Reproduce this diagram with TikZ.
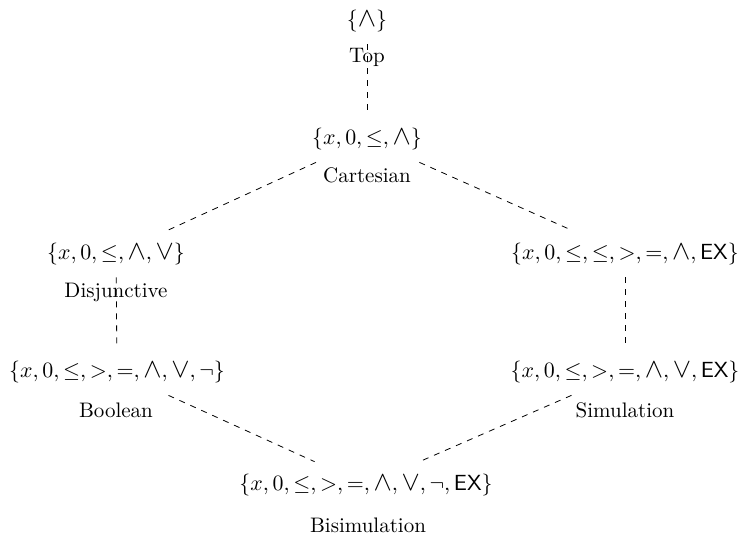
\documentclass[tikz,border=0pt]{standalone}
\usepackage{graphicx}
\newcommand{\bigwdg}{\mathbin{\scalebox{1.25}{$\wedge$}}}
\newcommand{\bigve}{\mathbin{\scalebox{1.25}{$\vee$}}}
\begin{document}
\begin{tikzpicture}[x=0.5pt,y=-0.5pt,
  every node/.style={font=\fontsize{10.5}{12.6}\selectfont},
  setnode/.style={inner xsep=3pt, inner ysep=6pt},
  namelabel/.style={anchor=base, inner sep=0pt},
  link/.style={dashed, line width=0.4pt}]
\useasboundingbox (0,0) rectangle (738,538);
% set nodes
\node[setnode] (top)   at (367,21)  {$\{\bigwdg\}$};
\node[setnode] (cart)  at (367,139) {$\{x,0,\leq,\bigwdg\}$};
\node[setnode] (disj)  at (116,254) {$\{x,0,\leq,\bigwdg,\bigve\}$};
\node[setnode] (ex)    at (625,254) {$\{x,0,\leq,\leq,>,=,\bigwdg,\mathsf{EX}\}$};
\node[setnode] (bool)  at (117,372) {$\{x,0,\leq,>,=,\bigwdg,\bigve,\neg\}$};
\node[setnode] (sim)   at (625,372) {$\{x,0,\leq,>,=,\bigwdg,\bigve,\mathsf{EX}\}$};
\node[setnode] (bisim) at (366,485) {$\{x,0,\leq,>,=,\bigwdg,\bigve,\neg,\mathsf{EX}\}$};
% name labels
\node[namelabel] (ltop)   at (367,62)  {Top};
\node[namelabel] (lcart)  at (367,182) {Cartesian};
\node[namelabel] (ldisj)  at (116,297) {Disjunctive};
\node[namelabel] (lbool)  at (116,417) {Boolean};
\node[namelabel] (lsim)   at (625,417) {Simulation};
\node[namelabel] (lbisim) at (368,532) {Bisimulation};
% connectors
\draw[link] (top) -- (cart);
\draw[link] (cart) -- (disj);
\draw[link] (cart) -- (ex);
\draw[link] (disj) -- (bool);
\draw[link] (ex) -- (sim);
\draw[link] (bool) -- (bisim);
\draw[link] (sim) -- (bisim);
\end{tikzpicture}
\end{document}
